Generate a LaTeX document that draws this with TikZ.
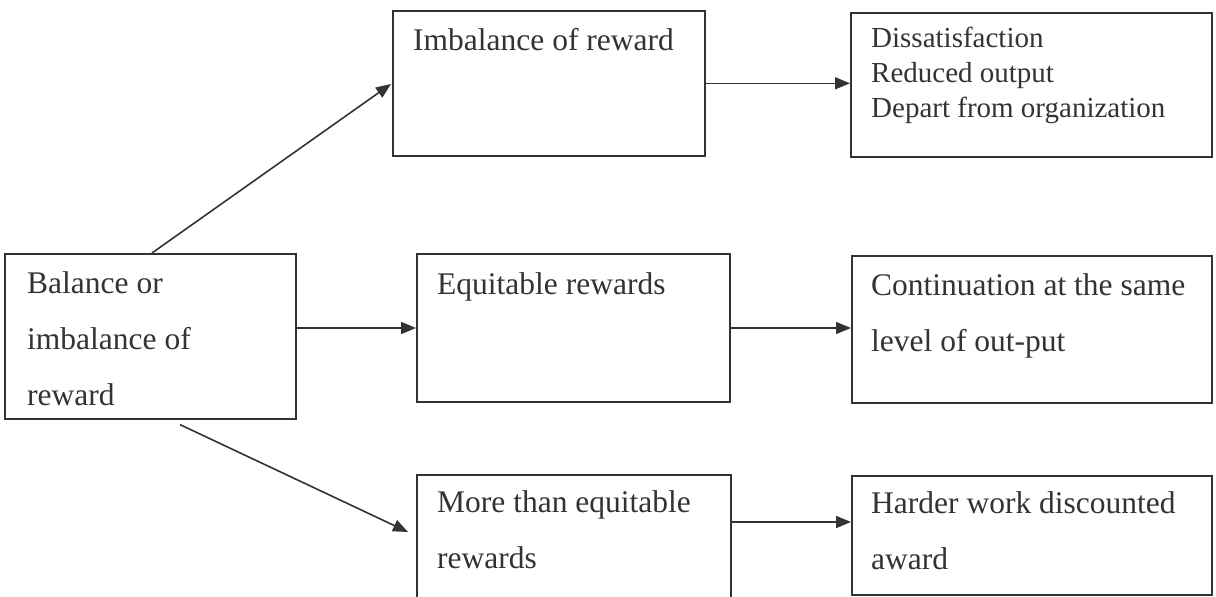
\documentclass[tikz,border=0pt]{standalone}
\usepackage{fontspec}
\setmainfont{Liberation Serif}
\usetikzlibrary{arrows.meta,calc}
\definecolor{ink}{HTML}{333333}
\tikzset{
  box/.style={draw=ink, line width=1.6pt, rectangle, anchor=north west, inner sep=0pt},
  txt/.style={anchor=base west, inner sep=0pt, text=ink, align=left, font=\fontsize{31.5}{56}\selectfont},
  txtsmall/.style={anchor=base west, inner sep=0pt, text=ink, align=left, font=\fontsize{29}{35}\selectfont},
  conn/.style={draw=ink, line width=1.6pt, -{Triangle[length=15pt,width=12pt]}}
}
\begin{document}
\begin{tikzpicture}[x=1pt,y=-1pt]
\useasboundingbox (0,0) rectangle (1216,597);
\clip (0,0) rectangle (1216,597);
% boxes
\node[box, minimum width=291pt, minimum height=165pt] (L) at (4,253) {};
\node[box, minimum width=312pt, minimum height=145pt] (TM) at (392,10) {};
\node[box, minimum width=361pt, minimum height=144pt] (TR) at (850,12) {};
\node[box, minimum width=313pt, minimum height=148pt] (MM) at (416,253) {};
\node[box, minimum width=360pt, minimum height=147pt] (MR) at (851,255) {};
\node[box, minimum width=314pt, minimum height=200pt] (BM) at (416,474) {};
\node[box, minimum width=360pt, minimum height=119pt] (BR) at (851,475) {};
% texts (anchor at the baseline of the last line)
\node[txt] (tL) at (27,405) {Balance or\\imbalance of\\reward};
\node[txt] (tTM) at (413,50) {Imbalance of reward};
\node[txtsmall] (tTR) at (871,117) {Dissatisfaction\\Reduced output\\Depart from organization};
\node[txt] (tMM) at (437,294) {Equitable rewards};
\node[txt] (tMR) at (871,351) {Continuation at the same\\level of out-put};
\node[txt] (tBM) at (437,568) {More than equitable\\rewards};
\node[txt] (tBR) at (871,569) {Harder work discounted\\award};
% connector end points
\coordinate (s1) at ($(L.north west)+(148,0)$);
\coordinate (e1) at ($(TM.north west)+(-1,74)$);
\coordinate (s3) at ($(L.south west)+(176,5)$);
\coordinate (e3) at ($(BM.north west)+(-8,58)$);
\coordinate (m1) at ($(MM.north west)+(0,75)$);
\coordinate (b1) at ($(BR.north west)+(0,47)$);
% connectors
\draw[conn] (s1) -- (e1);
\draw[conn] (m1 -| L.east) -- (m1);
\draw[conn] (s3) -- (e3);
\draw[conn] (TM.east) -- (TM.east -| TR.west);
\draw[conn] (m1 -| MM.east) -- (m1 -| MR.west);
\draw[conn] (b1 -| BM.east) -- (b1);
\end{tikzpicture}
\end{document}
